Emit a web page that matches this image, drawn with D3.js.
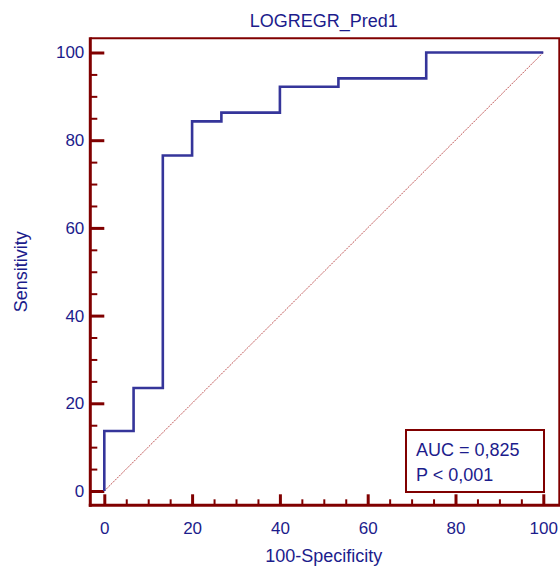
<!DOCTYPE html>
<html lang="en">
    <head>
        <meta charset="utf-8">
        <title>LOGREGR_Pred1 ROC</title>
        <script type="text/javascript" src="https://d3js.org/d3.v7.min.js"></script>
        <style>
            body { margin: 0; background: #fff; }
            svg { display: block; }
            text { font-family: Arial, "Liberation Sans", sans-serif; fill: #1c1c8c; }
        </style>
    </head>
    <body>
        <script>
            // ROC curve points (100-Specificity, Sensitivity)
            const fpr = [0, 0, 6.67, 6.67, 13.33, 13.33, 20, 20, 26.67, 26.67, 40, 40, 53.33, 53.33, 73.33, 73.33, 100];
            const tpr = [0, 13.7, 13.7, 23.5, 23.5, 76.5, 76.5, 84.3, 84.3, 86.3, 86.3, 92.2, 92.2, 94.1, 94.1, 100, 100];
            const majorTicks = [0, 20, 40, 60, 80, 100];
            const minorTicks = [5, 10, 15, 25, 30, 35, 45, 50, 55, 65, 70, 75, 85, 90, 95];
            const legendLines = ["AUC = 0,825", "P < 0,001"];
            const title = "LOGREGR_Pred1";
            const xTitle = "100-Specificity";
            const yTitle = "Sensitivity";

            const w = 560;
            const h = 566;
            const frame = {left: 90.3, top: 38.3, right: 559.3, bottom: 505.3};
            const axisCol = "#800000";
            const lineCol = "#35359a";

            const svg = d3.select("body")
                        .append("svg")
                        .attr("width", w)
                        .attr("height", h);

            const xScale = d3.scaleLinear().domain([0, 100]).range([104.3, 543.3]);
            const yScale = d3.scaleLinear().domain([0, 100]).range([491, 52.5]);

            // frame
            svg.append("line").attr("x1", frame.left).attr("x2", frame.right + 1)
               .attr("y1", frame.top).attr("y2", frame.top)
               .attr("stroke", axisCol).attr("stroke-width", 2);
            svg.append("line").attr("x1", frame.right).attr("x2", frame.right)
               .attr("y1", frame.top).attr("y2", frame.bottom)
               .attr("stroke", axisCol).attr("stroke-width", 2);
            svg.append("line").attr("x1", frame.left).attr("x2", frame.left)
               .attr("y1", frame.top - 1).attr("y2", frame.bottom + 1.5)
               .attr("stroke", axisCol).attr("stroke-width", 3);
            svg.append("line").attr("x1", frame.left - 1.5).attr("x2", frame.right + 1)
               .attr("y1", frame.bottom).attr("y2", frame.bottom)
               .attr("stroke", axisCol).attr("stroke-width", 3);

            // y axis
            const yAxis = svg.append("g")
               .attr("transform", "translate(" + frame.left + ",0)")
               .call(d3.axisLeft(yScale).tickValues(majorTicks).tickSize(-14).tickPadding(6));
            const yMinor = svg.append("g")
               .attr("transform", "translate(" + frame.left + ",0)")
               .call(d3.axisLeft(yScale).tickValues(minorTicks).tickSize(-7).tickFormat(""));

            // x axis
            const xAxis = svg.append("g")
               .attr("transform", "translate(0," + frame.bottom + ")")
               .call(d3.axisBottom(xScale).tickValues(majorTicks).tickSize(-11).tickPadding(16.5));
            const xMinor = svg.append("g")
               .attr("transform", "translate(0," + frame.bottom + ")")
               .call(d3.axisBottom(xScale).tickValues(minorTicks).tickSize(-6).tickFormat(""));

            [yAxis, yMinor, xAxis, xMinor].forEach(function(g) {
                g.select(".domain").remove();
            });
            [yAxis, xAxis].forEach(function(g) {
                g.selectAll(".tick line").attr("stroke", axisCol).attr("stroke-width", 3);
                g.selectAll(".tick text")
                 .attr("font-size", "17px")
                 .attr("fill", "#1c1c8c")
                 .attr("font-family", "Arial, 'Liberation Sans', sans-serif");
            });
            [yMinor, xMinor].forEach(function(g) {
                g.selectAll(".tick line").attr("stroke", axisCol).attr("stroke-width", 2);
            });

            // diagonal reference
            svg.append("line")
               .attr("x1", xScale(0)).attr("y1", yScale(0))
               .attr("x2", xScale(100)).attr("y2", yScale(100))
               .attr("stroke", "#c05555")
               .attr("stroke-width", 1)
               .attr("stroke-dasharray", "2,1");

            // ROC curve
            const line = d3.line()
                .x(function(d, i) { return xScale(fpr[i]); })
                .y(function(d, i) { return yScale(tpr[i]); });
            svg.append("path")
               .datum(fpr)
               .attr("d", line)
               .attr("fill", "none")
               .attr("stroke", lineCol)
               .attr("stroke-width", 2.6);

            // titles
            svg.append("text")
               .attr("x", (xScale(0) + xScale(100)) / 2)
               .attr("y", 27.3)
               .attr("text-anchor", "middle")
               .attr("font-size", "18px")
               .text(title);
            svg.append("text")
               .attr("x", (xScale(0) + xScale(100)) / 2)
               .attr("y", 561.5)
               .attr("text-anchor", "middle")
               .attr("font-size", "18px")
               .text(xTitle);
            svg.append("text")
               .attr("transform", "translate(26.5," + (yScale(0) + yScale(100)) / 2 + ") rotate(-90)")
               .attr("text-anchor", "middle")
               .attr("font-size", "18px")
               .text(yTitle);

            // legend box
            const legend = svg.append("g").attr("transform", "translate(406,430)");
            legend.append("rect")
               .attr("width", 138).attr("height", 62)
               .attr("fill", "#fff")
               .attr("stroke", axisCol)
               .attr("stroke-width", 2);
            legend.selectAll("text.leg")
               .data(legendLines)
               .enter()
               .append("text")
               .attr("class", "leg")
               .attr("x", 10)
               .attr("y", function(d, i) { return 26 + i * 24.7; })
               .attr("font-size", "18px")
               .text(function(d) { return d; });
        </script>
    </body>
</html>
